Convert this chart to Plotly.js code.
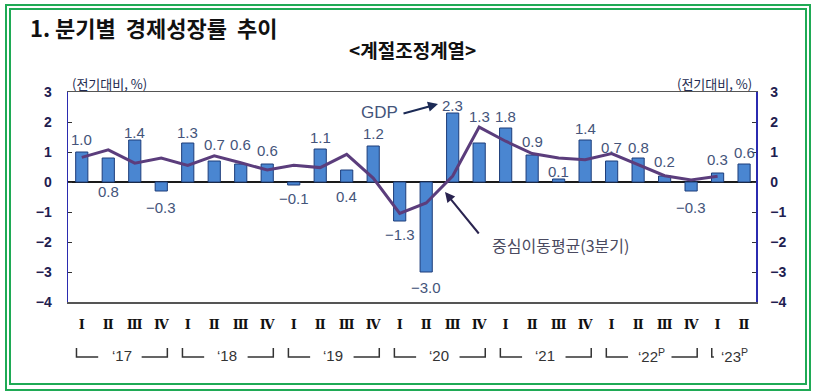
<!DOCTYPE html>
<html>
<head>
<meta charset="utf-8">
<script src="https://cdn.plot.ly/plotly-3.0.1.min.js"></script>
<style>html,body{margin:0;padding:0;background:#fff;}#chart{width:814px;height:392px;}</style>
</head>
<body>
<div id="chart"></div>
<script>
// ---- data ----
const quarters = ['17Q1','17Q2','17Q3','17Q4','18Q1','18Q2','18Q3','18Q4','19Q1','19Q2','19Q3','19Q4',
                  '20Q1','20Q2','20Q3','20Q4','21Q1','21Q2','21Q3','21Q4','22Q1','22Q2','22Q3','22Q4','23Q1','23Q2'];
const quarterLabels = ['Ⅰ','Ⅱ','Ⅲ','Ⅳ','Ⅰ','Ⅱ','Ⅲ','Ⅳ','Ⅰ','Ⅱ','Ⅲ','Ⅳ','Ⅰ','Ⅱ','Ⅲ','Ⅳ',
                       'Ⅰ','Ⅱ','Ⅲ','Ⅳ','Ⅰ','Ⅱ','Ⅲ','Ⅳ','Ⅰ','Ⅱ'];
const gdp = [1.0,0.8,1.4,-0.3,1.3,0.7,0.6,0.6,-0.1,1.1,0.4,1.2,-1.3,-3.0,2.3,1.3,1.8,0.9,0.1,1.4,0.7,0.8,0.2,-0.3,0.3,0.6];
const maQuarters = quarters.slice(0, 25);
const movingAvg = [0.82,1.07,0.63,0.80,0.55,0.87,0.64,0.40,0.56,0.48,0.92,0.13,-1.05,-0.70,0.20,1.83,1.36,0.95,0.80,0.74,0.95,0.57,0.21,0.07,0.19];
const yearLabels = ['‘17','‘18','‘19','‘20','‘21','‘22<sup>P</sup>','‘23<sup>P</sup>'];
const yearStart = [0,4,8,12,16,20,24];
const yearLength = [4,4,4,4,4,4,2];
const yTicks = [-4,-3,-2,-1,0,1,2,3];

// ---- placement (style) ----
const labelShift = [13,-33,8,-16,11,17,20,14,-13,12,-26,13,-13,-15,8,27,12,14,8,12,14,11,15,-16,14,12];
const L = 68, R = 58, T = 92, B = 90, W = 814, H = 392;
const pw = W - L - R, ph = H - T - B;
const px = x => (x - L) / pw;
const py = y => (H - B - y) / ph;

const fmt = v => v.toFixed(1).replace('-', '−');

const bars = {
  type: 'bar', x: quarters, y: gdp, width: 0.46,
  marker: {color: '#4a86d1', line: {color: '#1d3d7a', width: 1}},
  hoverinfo: 'skip', showlegend: false
};
const line = {
  type: 'scatter', mode: 'lines', x: maQuarters, y: movingAvg, yaxis: 'y2',
  line: {color: '#5b3d7c', width: 3}, hoverinfo: 'skip', showlegend: false
};

const annotations = [];
gdp.forEach((v, i) => {
  annotations.push({x: quarters[i], y: v, xref: 'x', yref: 'y', text: fmt(v), showarrow: false,
    yanchor: 'middle', yshift: labelShift[i], font: {family: 'Liberation Sans, Arial', size: 15, color: '#44547a'}});
});
// Titles
annotations.push({xref: 'paper', yref: 'paper', x: px(28), y: py(27), xanchor: 'left', yanchor: 'middle', showarrow: false,
  text: '<b>1. 분기별  경제성장률  추이</b>', font: {family: 'Noto Sans CJK KR', size: 22, color: '#111'}});
annotations.push({xref: 'paper', yref: 'paper', x: px(412), y: py(49), xanchor: 'center', yanchor: 'middle', showarrow: false,
  text: '<b><계절조정계열></b>', font: {family: 'Noto Sans CJK KR', size: 19, color: '#111'}});
annotations.push({xref: 'paper', yref: 'paper', x: px(70), y: py(84), xanchor: 'left', yanchor: 'middle', showarrow: false,
  text: '(전기대비, %)', font: {family: 'Noto Sans CJK KR', size: 13, color: '#222a50'}});
annotations.push({xref: 'paper', yref: 'paper', x: px(754), y: py(84), xanchor: 'right', yanchor: 'middle', showarrow: false,
  text: '(전기대비, %)', font: {family: 'Noto Sans CJK KR', size: 13, color: '#222a50'}});
// GDP callout
annotations.push({xref: 'paper', yref: 'paper', x: px(379), y: py(112), showarrow: false, xanchor: 'center', yanchor: 'middle',
  text: 'GDP', font: {family: 'Liberation Sans, Arial', size: 17, color: '#44547a'}});
annotations.push({xref: 'paper', yref: 'paper', x: px(438), y: py(104), ax: -36, ay: 10, text: '', showarrow: true,
  arrowhead: 2, arrowsize: 1, arrowwidth: 2, arrowcolor: '#1b2a55'});
// Moving average callout
annotations.push({xref: 'paper', yref: 'paper', x: px(560), y: py(245), showarrow: false, xanchor: 'center', yanchor: 'middle',
  text: '중심이동평균(3분기)', font: {family: 'Noto Sans CJK KR', size: 16, color: '#4a4a60'}});
annotations.push({xref: 'paper', yref: 'paper', x: px(445), y: py(192), ax: 35, ay: 43, text: '', showarrow: true,
  arrowhead: 2, arrowsize: 1, arrowwidth: 2, arrowcolor: '#2a2450'});
// Year labels
yearLabels.forEach((t, k) => {
  annotations.push({xref: 'x', yref: 'paper', x: yearStart[k] + (yearLength[k] - 1) / 2 + (yearLength[k] === 2 ? 0.15 : 0), y: py(355),
    text: t, showarrow: false, xanchor: 'center', yanchor: 'middle',
    font: {family: 'Liberation Sans, Arial', size: 15, color: '#333'}});
});

const shapes = [];
// green double border
[[6, 5, 810, 390], [10, 9, 806, 384]].forEach(r => {
  shapes.push({type: 'rect', xref: 'paper', yref: 'paper', x0: px(r[0]), y0: py(r[1]), x1: px(r[2]), y1: py(r[3]),
    line: {color: '#1faa55', width: 2}, fillcolor: 'rgba(0,0,0,0)'});
});
// year brackets
const bTop = py(348), bBot = py(357);
yearStart.forEach((s, k) => {
  const e = s + yearLength[k] - 1;
  if (yearLength[k] === 4) {
    shapes.push({type: 'path', xref: 'x', yref: 'paper',
      path: `M ${s - 0.2} ${bTop} L ${s - 0.2} ${bBot} L ${s + 0.62} ${bBot}`, line: {color: '#333', width: 1.5}});
    shapes.push({type: 'path', xref: 'x', yref: 'paper',
      path: `M ${e - 0.74} ${bBot} L ${e + 0.23} ${bBot} L ${e + 0.23} ${bTop}`, line: {color: '#333', width: 1.5}});
  } else {
    shapes.push({type: 'path', xref: 'x', yref: 'paper',
      path: `M ${s - 0.22} ${bTop} L ${s - 0.22} ${bBot} L ${s - 0.14} ${bBot}`, line: {color: '#333', width: 1.5}});
    shapes.push({type: 'path', xref: 'x', yref: 'paper',
      path: `M ${e + 0.52} ${bBot} L ${e + 0.6} ${bBot} L ${e + 0.6} ${bTop}`, line: {color: '#333', width: 1.5}});
  }
});

const yAxisCommon = {
  range: [-4, 3], tickvals: yTicks, showgrid: false, ticks: 'inside', ticklen: 4, tickcolor: '#333',
  tickfont: {family: 'Liberation Sans, Arial', size: 14, color: '#1e2050', weight: 'bold'},
  showline: true, linecolor: '#2b2bb0', linewidth: 1.5, fixedrange: true
};

const layout = {
  width: W, height: H, margin: {l: L, r: R, t: T, b: B, pad: 0},
  paper_bgcolor: '#fff', plot_bgcolor: '#fff', showlegend: false, bargap: 0.5,
  xaxis: {type: 'category', range: [-0.52, 25.45], tickvals: quarters, ticktext: quarterLabels,
    ticks: '', showgrid: false, showline: true, mirror: true, linecolor: '#555', linewidth: 1.5,
    tickfont: {family: 'DejaVu Serif, Liberation Serif', size: 13, color: '#111', weight: 'bold'}, ticklabelstandoff: 10},
  yaxis: Object.assign({}, yAxisCommon, {side: 'left', zeroline: true, zerolinecolor: '#1a1a1a', zerolinewidth: 1.8,
    ticklabelstandoff: 12}),
  yaxis2: Object.assign({}, yAxisCommon, {side: 'right', overlaying: 'y', zeroline: false, ticklabelstandoff: 10}),
  annotations: annotations, shapes: shapes
};

Plotly.newPlot('chart', [bars, line], layout, {displayModeBar: false, staticPlot: true});
</script>
</body>
</html>
